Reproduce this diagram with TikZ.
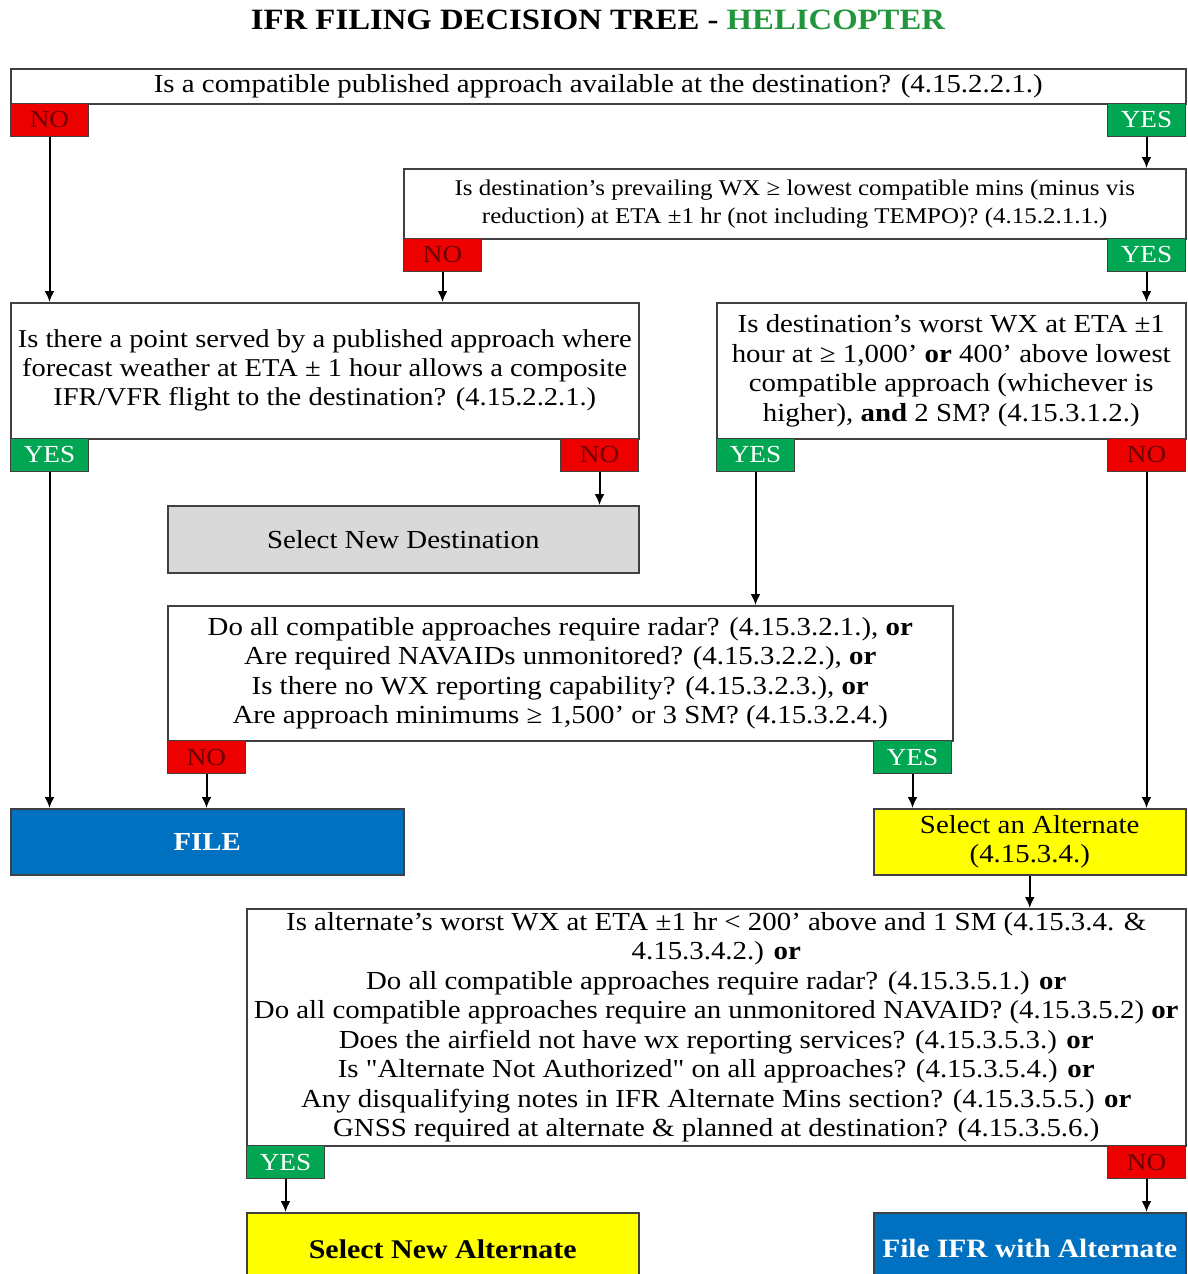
\documentclass[tikz,border=0pt]{standalone}
\usepackage{fontspec}
\setmainfont{Liberation Serif}[FakeStretch=1.11]
\newfontfamily\straightfont{Liberation Serif}[FakeStretch=1.11]
\usetikzlibrary{arrows.meta}

\definecolor{yesgreen}{RGB}{0,166,81}
\definecolor{nored}{RGB}{237,0,0}
\definecolor{notext}{RGB}{110,0,0}
\definecolor{fileblue}{RGB}{0,112,192}
\definecolor{altyellow}{RGB}{255,255,0}
\definecolor{destgray}{RGB}{217,217,217}
\definecolor{heligreen}{RGB}{34,150,60}

\newcommand{\qfont}{\fontsize{26}{29.5}\selectfont}
\newcommand{\tagfont}{\fontsize{24.5}{24.5}\selectfont}
\newcommand{\dq}{{\straightfont"}}

\tikzset{
  qbox/.style={draw=black!75, line width=1.5pt, fill=white, align=center, inner sep=0pt, anchor=north west, font=\qfont},
  tag/.style={draw=black!75, line width=1pt, minimum width=78pt, minimum height=33pt, inner sep=0pt, anchor=north west, font=\tagfont},
  yestag/.style={tag, fill=yesgreen, text=white},
  notag/.style={tag, fill=nored, text=notext},
  arr/.style={-{Latex[length=11pt,width=10pt]}, line width=2pt},
}

\begin{document}
\begin{tikzpicture}[x=1pt, y=-1pt]

    % Page
    \clip (0,0) rectangle (1187,1274);

    % Title
    \node[font=\fontsize{29.5}{32}\selectfont\bfseries] (title) at (598,20) {IFR FILING DECISION TREE - \textcolor{heligreen}{HELICOPTER}};

    % Approach at destination
    \node[qbox, minimum width=1175pt, minimum height=35pt, font=\fontsize{26}{28}\selectfont] (q1) at (10,68) {Is a compatible published approach available at the destination? (4.15.2.2.1.)};
    \node[notag]  (q1no)  at (10,103)   {NO};
    \node[yestag] (q1yes) at (1107,103) {YES};

    % Prevailing weather
    \node[qbox, minimum width=782pt, minimum height=70pt, font=\fontsize{22.5}{28}\selectfont] (q2) at (403,168) {Is destination's prevailing WX ≥ lowest compatible mins (minus vis\\reduction) at ETA ±1 hr (not including TEMPO)? (4.15.2.1.1.)};
    \node[notag]  (q2no)  at (403,238)  {NO};
    \node[yestag] (q2yes) at (1107,238) {YES};

    % Composite IFR/VFR
    \node[qbox, minimum width=628pt, minimum height=136pt, font=\fontsize{25.7}{29}\selectfont] (q3) at (10,302) {Is there a point served by a published approach where\\forecast weather at ETA ± 1 hour allows a composite\\IFR/VFR flight to the destination? (4.15.2.2.1.)};
    \node[yestag] (q3yes) at (10,438)  {YES};
    \node[notag]  (q3no)  at (560,438) {NO};

    % Worst weather
    \node[qbox, minimum width=469pt, minimum height=136pt] (q4) at (716,302) {Is destination's worst WX at ETA ±1\\hour at ≥ 1,000’ \textbf{or} 400’ above lowest\\compatible approach (whichever is\\higher), \textbf{and} 2 SM? (4.15.3.1.2.)};
    \node[yestag] (q4yes) at (716,438)  {YES};
    \node[notag]  (q4no)  at (1107,438) {NO};

    \node[qbox, fill=destgray, minimum width=471pt, minimum height=67pt] (newdest) at (167,505) {Select New Destination};

    % Radar, NAVAIDs, reporting
    \node[qbox, minimum width=785pt, minimum height=135pt] (q5) at (167,605) {Do all compatible approaches require radar? (4.15.3.2.1.), \textbf{or}\\Are required NAVAIDs unmonitored? (4.15.3.2.2.), \textbf{or}\\Is there no WX reporting capability? (4.15.3.2.3.), \textbf{or}\\Are approach minimums ≥ 1,500’ or 3 SM? (4.15.3.2.4.)};
    \node[notag]  (q5no)  at (167,740) {NO};
    \node[yestag] (q5yes) at (873,740) {YES};

    \node[qbox, fill=fileblue, text=white, minimum width=393pt, minimum height=66pt, font=\qfont\bfseries] (file) at (10,808) {FILE};
    \node[qbox, fill=altyellow, minimum width=312pt, minimum height=66pt, font=\fontsize{26}{29}\selectfont] (selalt) at (873,808) {Select an Alternate\\(4.15.3.4.)};

    % Alternate checks
    \node[qbox, minimum width=939pt, minimum height=237pt] (q6) at (246,908) {Is alternate's worst WX at ETA ±1 hr < 200’ above and 1 SM (4.15.3.4. \&\\4.15.3.4.2.) \textbf{or}\\Do all compatible approaches require radar? (4.15.3.5.1.) \textbf{or}\\Do all compatible approaches require an unmonitored NAVAID? (4.15.3.5.2) \textbf{or}\\Does the airfield not have wx reporting services? (4.15.3.5.3.) \textbf{or}\\Is \dq Alternate Not Authorized\dq{} on all approaches? (4.15.3.5.4.) \textbf{or}\\Any disqualifying notes in IFR Alternate Mins section? (4.15.3.5.5.) \textbf{or}\\GNSS required at alternate \& planned at destination? (4.15.3.5.6.)};
    \node[yestag] (q6yes) at (246,1145)  {YES};
    \node[notag]  (q6no)  at (1107,1145) {NO};

    \node[qbox, fill=altyellow, minimum width=392pt, minimum height=72pt, font=\fontsize{27}{29}\selectfont\bfseries] (newalt) at (246,1212) {Select New Alternate};
    \node[qbox, fill=fileblue, text=white, minimum width=312pt, minimum height=72pt, font=\fontsize{26.5}{29}\selectfont\bfseries] (filealt) at (873,1212) {File IFR with Alternate};

    % Arrows
    \draw[arr] (q1no.south)  -- (q1no.south |- q3.north);
    \draw[arr] (q1yes.south) -- (q1yes.south |- q2.north);
    \draw[arr] (q2no.south)  -- (q2no.south |- q3.north);
    \draw[arr] (q2yes.south) -- (q2yes.south |- q4.north);
    \draw[arr] (q3yes.south) -- (q3yes.south |- file.north);
    \draw[arr] (q3no.south)  -- (q3no.south |- newdest.north);
    \draw[arr] (q4yes.south) -- (q4yes.south |- q5.north);
    \draw[arr] (q4no.south)  -- (q4no.south |- selalt.north);
    \draw[arr] (q5no.south)  -- (q5no.south |- file.north);
    \draw[arr] (q5yes.south) -- (q5yes.south |- selalt.north);
    \draw[arr] (selalt.south) -- (selalt.south |- q6.north);
    \draw[arr] (q6yes.south) -- (q6yes.south |- newalt.north);
    \draw[arr] (q6no.south)  -- (q6no.south |- filealt.north);

\end{tikzpicture}
\end{document}
